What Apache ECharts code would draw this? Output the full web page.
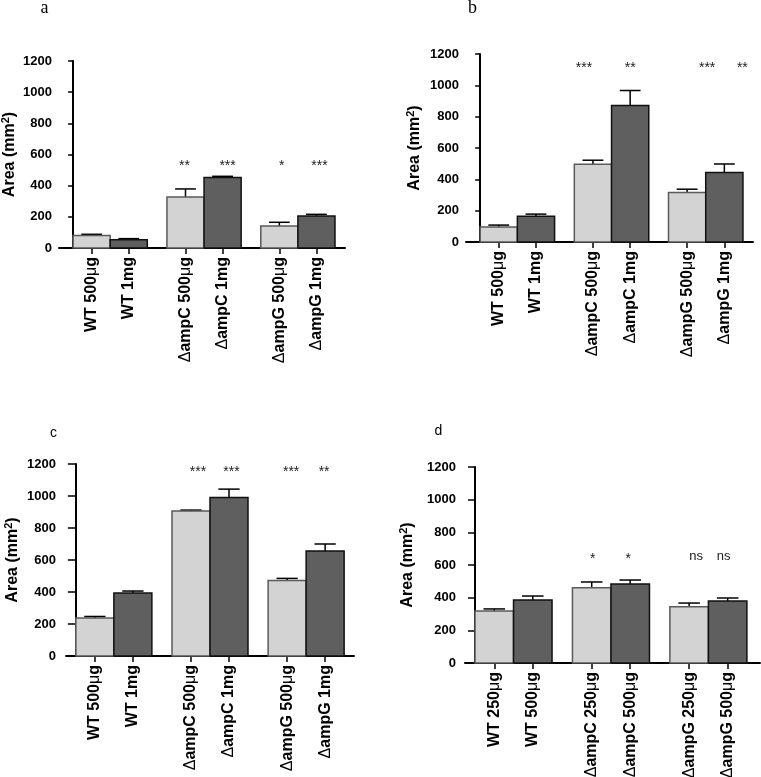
<!DOCTYPE html>
<html>
<head>
<meta charset="utf-8">
<script src="https://cdn.jsdelivr.net/npm/echarts@6/dist/echarts.min.js"></script>
<style>
html,body{margin:0;padding:0;background:#fff;}
#chart{width:761px;height:777px;}
</style>
</head>
<body>
<div id="chart"></div>
<script>
// ---------- data ----------
const labelsABC = ['WT 500μg', 'WT 1mg', 'ΔampC 500μg', 'ΔampC 1mg', 'ΔampG 500μg', 'ΔampG 1mg'];
const labelsD = ['WT 250μg', 'WT 500μg', 'ΔampC 250μg', 'ΔampC 500μg', 'ΔampG 250μg', 'ΔampG 500μg'];

const meanA = [81, 53, 327, 453, 141, 205];
const sdA = [7, 7, 52, 7, 24, 11];
const sigA = ['', '', '**', '***', '*', '***'];

const meanB = [95, 165, 496, 871, 316, 443];
const sdB = [13, 13, 26, 96, 21, 55];
const sigB = ['', '', '***', '**', '***', '**'];

const meanC = [238, 393, 907, 991, 472, 656];
const sdC = [9, 13, 5, 52, 13, 44];
const sigC = ['', '', '***', '***', '***', '**'];

const meanD = [318, 386, 461, 484, 345, 380];
const sdD = [13, 24, 35, 24, 22, 18];
const sigD = ['', '', '*', '*', 'ns', 'ns'];

const yTicks = [0, 200, 400, 600, 800, 1000, 1200];
const panelLetters = ['a', 'b', 'c', 'd'];

// ---------- layout ----------
const GROUP_GAP = 0.53;
function barCenter(i) { const g = Math.floor(i / 2); return g * (2 + GROUP_GAP) + (i % 2) + 0.5; }

const panels = [
  {labels: labelsABC, mean: meanA, sd: sdA, sig: sigA,
   grid: {left: 59, top: 61, width: 286, height: 187}, xmin: -0.38, xmax: 7.33, nameGap: 39, labelMargin: 7,
   sigLevel: 545, sigDx: [0, 0, -1, 5, 2.5, 3]},
  {labels: labelsABC, mean: meanB, sd: sdB, sig: sigB,
   grid: {left: 466, top: 54, width: 287, height: 188}, xmin: -0.38, xmax: 7.33, nameGap: 41, labelMargin: 7,
   sigLevel: 1128, sigDx: [0, 0, -9, 0, 20, 18]},
  {labels: labelsABC, mean: meanC, sd: sdC, sig: sigC,
   grid: {left: 66, top: 464, width: 288, height: 192}, xmin: -0.26, xmax: 7.32, nameGap: 43, labelMargin: 10,
   sigLevel: 1170, sigDx: [0, 0, 7, 2.5, 4, -1]},
  {labels: labelsD, mean: meanD, sd: sdD, sig: sigD,
   grid: {left: 465, top: 467, width: 295, height: 196}, xmin: -0.26, xmax: 7.40, nameGap: 47, labelMargin: 9,
   sigLevel: 653, sigDx: [0, 0, 1, -2, 7, -4]}
];

const letterStyle = [
  {x: 44.5, y: 17, size: 18, family: 'Liberation Serif'},
  {x: 472.5, y: 17, size: 18, family: 'Liberation Serif'},
  {x: 53.5, y: 440, size: 14, family: 'Liberation Sans'},
  {x: 438.5, y: 438, size: 14, family: 'Liberation Sans'}
];

const LIGHT = {fill: '#d3d3d3', stroke: '#5a5a5a'};
const DARK = {fill: '#5f5f5f', stroke: '#111111'};
const FONT = 'Liberation Sans';

function richLabel(s) {
  return s.replace(/[Δμ]/g, m => '{s|' + m + '}');
}

const chart = echarts.init(document.getElementById('chart'), null, {renderer: 'canvas'});

const grids = [], xAxes = [], yAxes = [], series = [];
panels.forEach((p, k) => {
  const centers = p.labels.map((_, i) => barCenter(i));
  grids.push(Object.assign({outerBoundsMode: 'none', containLabel: false}, p.grid));
  xAxes.push({
    gridIndex: k, type: 'value', min: p.xmin, max: p.xmax,
    splitLine: {show: false},
    axisLine: {show: true, onZero: false, lineStyle: {color: '#000', width: 2}},
    axisTick: {show: true, customValues: centers, length: 6, lineStyle: {color: '#000', width: 1.5}},
    axisLabel: {
      show: true, customValues: centers, rotate: 90, margin: 9,
      fontFamily: FONT, fontSize: 16, fontWeight: 'bold', color: '#000',
      formatter: v => {
        let best = 0;
        centers.forEach((c, i) => { if (Math.abs(c - v) < Math.abs(centers[best] - v)) best = i; });
        return richLabel(p.labels[best]);
      },
      rich: {s: {fontFamily: FONT, fontSize: 16, fontWeight: 'normal', color: '#000'}}
    }
  });
  yAxes.push({
    gridIndex: k, type: 'value', min: 0, max: 1200, interval: 200,
    splitLine: {show: false},
    axisLine: {show: true, lineStyle: {color: '#000', width: 2}},
    axisTick: {show: true, length: p.labelMargin - 2, lineStyle: {color: '#000', width: 1.5}},
    axisLabel: {margin: p.labelMargin, fontFamily: FONT, fontSize: 13, fontWeight: 'bold', color: '#000',
      formatter: v => yTicks.indexOf(v) >= 0 ? String(v) : ''},
    name: '{t|Area (mm}{sup|2}{t|)}',
    nameLocation: 'middle', nameGap: p.nameGap,
    nameTextStyle: {
      rich: {
        t: {fontFamily: FONT, fontSize: 16, fontWeight: 'bold', color: '#000', lineHeight: 20},
        sup: {fontFamily: FONT, fontSize: 11, fontWeight: 'bold', color: '#000', lineHeight: 12, verticalAlign: 'top'}
      }
    }
  });
  // bars + error bars
  series.push({
    type: 'custom', xAxisIndex: k, yAxisIndex: k, clip: false,
    data: p.mean.map((m, i) => [centers[i], m, p.sd[i], i % 2]),
    renderItem: (params, api) => {
      const x = api.value(0), y = api.value(1), sd = api.value(2), dark = api.value(3) === 1;
      const bl = api.coord([x - 0.5, 0]);
      const tr = api.coord([x + 0.5, y]);
      const top = api.coord([x, y + sd]);
      const cl = api.coord([x - 0.28, y + sd]);
      const cr = api.coord([x + 0.28, y + sd]);
      const c = dark ? DARK : LIGHT;
      return {type: 'group', children: [
        {type: 'line', shape: {x1: top[0], y1: tr[1], x2: top[0], y2: top[1]}, style: {stroke: '#000', lineWidth: 1.5}},
        {type: 'line', shape: {x1: cl[0], y1: top[1], x2: cr[0], y2: top[1]}, style: {stroke: '#000', lineWidth: 1.5}},
        {type: 'rect', shape: {x: bl[0], y: tr[1], width: tr[0] - bl[0], height: bl[1] - tr[1]},
         style: {fill: c.fill, stroke: c.stroke, lineWidth: 1.5}}
      ]};
    }
  });
  // significance marks
  series.push({
    type: 'custom', xAxisIndex: k, yAxisIndex: k, clip: false, silent: true,
    data: p.sig.map((s, i) => [centers[i], p.sigLevel, i]),
    renderItem: (params, api) => {
      const i = api.value(2);
      const txt = p.sig[i];
      if (!txt) return null;
      const pt = api.coord([api.value(0), api.value(1)]);
      const isStar = txt.indexOf('*') >= 0;
      return {type: 'text', style: {
        text: txt, x: pt[0] + p.sigDx[i], y: pt[1] + (isStar ? 3 : 0),
        align: 'center', verticalAlign: 'middle',
        fontFamily: FONT, fontSize: isStar ? 14 : 13, fill: '#222'
      }};
    }
  });
});

const graphics = panelLetters.map((t, k) => ({
  type: 'text', x: letterStyle[k].x, y: letterStyle[k].y,
  style: {text: t, fontFamily: letterStyle[k].family, fontSize: letterStyle[k].size, fill: '#000',
          align: 'center', verticalAlign: 'bottom'}
}));

chart.setOption({
  backgroundColor: '#fff',
  animation: false,
  grid: grids, xAxis: xAxes, yAxis: yAxes, series: series,
  graphic: graphics
});
</script>
</body>
</html>
